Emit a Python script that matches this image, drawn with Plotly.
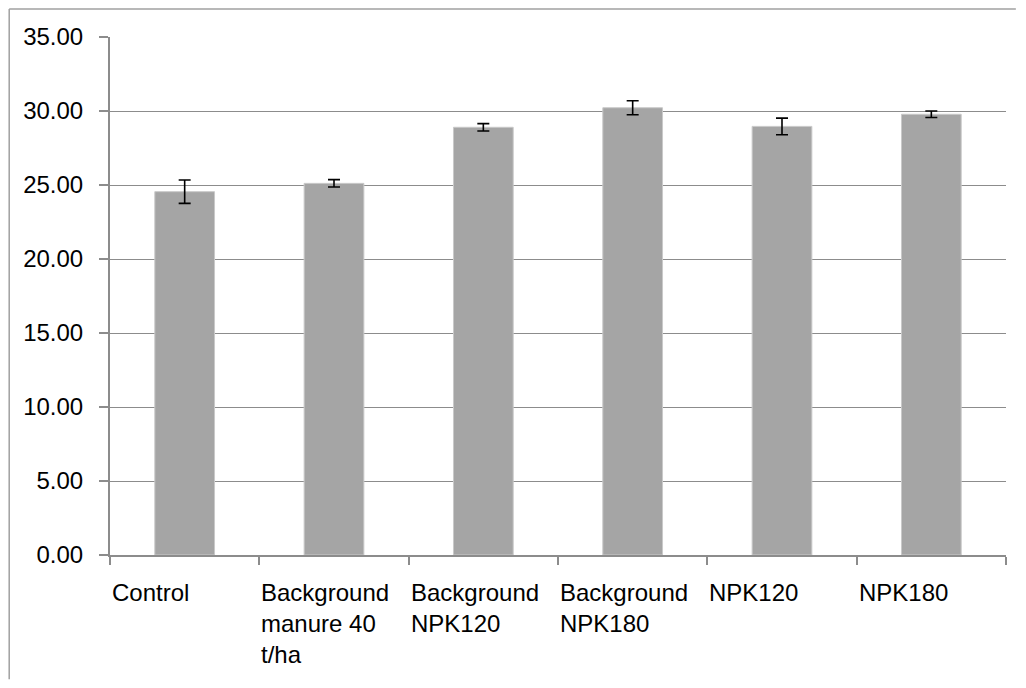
import plotly.graph_objects as go

categories = ["Control", "Background<br>manure 40<br>t/ha", "Background<br>NPK120",
              "Background<br>NPK180", "NPK120", "NPK180"]
values = [24.55, 25.11, 28.90, 30.22, 28.96, 29.78]
errors = [0.79, 0.25, 0.25, 0.47, 0.56, 0.22]
y_ticks = [0, 5, 10, 15, 20, 25, 30, 35]

FONT = "Liberation Sans"
idx = list(range(len(categories)))

fig = go.Figure()
fig.add_trace(go.Bar(
    x=idx, y=values, width=0.4,
    marker=dict(color="#A5A5A5", line=dict(color="#C9C9C9", width=1)),
    error_y=dict(type="data", array=errors, visible=True,
                 color="black", thickness=1.6, width=6),
    showlegend=False,
))

for i, lab in enumerate(categories):
    fig.add_annotation(x=i - 0.5, y=0, xref="x", yref="paper",
                       text=lab, showarrow=False, xanchor="left", yanchor="top",
                       align="left", xshift=0, yshift=-22,
                       font=dict(family=FONT, size=24, color="black"))

# outer chart frame (only top and left edges are inside the picture)
fig.add_shape(type="line", xref="paper", yref="paper",
              x0=-0.1125, x1=1.011, y0=1.054, y1=1.054,
              line=dict(color="#A0A0A0", width=1.5))
fig.add_shape(type="line", xref="paper", yref="paper",
              x0=-0.1125, x1=-0.1125, y0=-0.24, y1=1.054,
              line=dict(color="#A0A0A0", width=1.5))

fig.update_layout(
    width=1010, height=672,
    margin=dict(l=102, r=12, t=29, b=125),
    paper_bgcolor="white", plot_bgcolor="white",
    bargap=0.6,
    font=dict(family=FONT, size=24, color="black"),
    xaxis=dict(range=[-0.5, 5.5], tickvals=[k - 0.5 for k in range(len(categories) + 1)],
               ticktext=[""] * (len(categories) + 1), ticks="outside", ticklen=8,
               tickcolor="#8C8C8C", tickwidth=1.5, showgrid=False, zeroline=False,
               showline=True, linecolor="#8C8C8C", linewidth=2),
    yaxis=dict(range=[0, 35], tickvals=y_ticks, tickformat=".2f",
               ticks="outside", ticklen=9, tickcolor="#8C8C8C", tickwidth=1.5,
               showgrid=True, gridcolor="#8C8C8C", gridwidth=1, zeroline=False,
               showline=True, linecolor="#8C8C8C", linewidth=2,
               ticklabelstandoff=11,
               tickfont=dict(family=FONT, size=24, color="black")),
)

fig.write_html("out.html")
